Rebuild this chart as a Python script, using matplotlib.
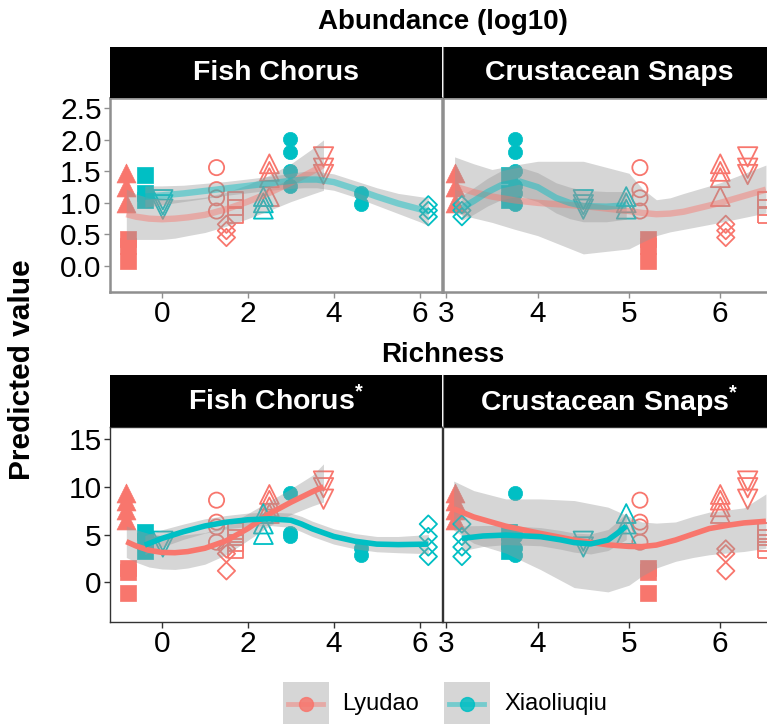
import matplotlib
matplotlib.use("Agg")
import matplotlib.pyplot as plt
from matplotlib.patches import Rectangle
from matplotlib.lines import Line2D
import numpy as np

plt.rcParams['font.family'] = ['Liberation Sans', 'DejaVu Sans']
plt.rcParams['mathtext.fontset'] = 'custom'
plt.rcParams['mathtext.rm'] = 'Liberation Sans'
plt.rcParams['mathtext.bf'] = 'Liberation Sans:bold'

# ---------------- data ----------------
islands = ["Lyudao", "Xiaoliuqiu"]
island_colours = {"Lyudao": "#F8766D", "Xiaoliuqiu": "#00BFC4"}

site_island = ["Lyudao"] * 7 + ["Xiaoliuqiu"] * 6
site_marker = ["^", "s", "o", "s", "D", "^", "v", "s", "v", "^", "o", "o", "D"]
site_filled = [True, True, False, False, False, False, False, True, False, False, True, True, False]
fish_chorus_x = [-0.83, -0.78, 1.27, 1.71, 1.50, 2.50, 3.76, -0.40, 0.02, 2.36, 2.98, 4.64, 6.20]
crust_snaps_x = [3.09, 5.21, 5.12, 6.50, 6.06, 6.00, 6.30, 3.69, 4.50, 4.97, 3.75, 3.75, 3.17]
abundance = [
    [1.47, 1.25, 1.00],
    [0.42, 0.32, 0.08],
    [1.56, 1.21, 1.08, 0.87],
    [1.05, 0.93, 0.80],
    [0.66, 0.56, 0.45],
    [1.62, 1.50, 1.40, 1.10],
    [1.73, 1.55, 1.45],
    [1.45, 1.16, 1.05],
    [1.05, 0.97, 0.90],
    [1.10, 1.00, 0.90],
    [2.02, 1.80, 1.50, 1.26],
    [1.15, 0.98],
    [0.97, 0.88, 0.78],
]
richness = [
    [9.3, 8.5, 7.6, 6.5],
    [1.5, 1.1, -1.1],
    [8.6, 6.3, 5.8, 4.2],
    [5.4, 4.7, 4.1, 3.4],
    [3.5, 3.0, 1.2],
    [9.2, 8.6, 7.9, 7.2],
    [10.6, 9.9, 8.7],
    [5.3, 4.3, 3.3],
    [4.3, 3.7],
    [7.2, 6.1, 5.0],
    [9.4, 5.2, 4.9],
    [3.6, 2.9],
    [6.1, 4.8, 3.7, 2.7],
]

# fitted smooths: x, fit, lower, upper
ab_fc_L_x = [-0.83, -0.6, -0.3, 0, 0.3, 0.6, 1, 1.5, 2, 2.5, 3, 3.5, 3.76]
ab_fc_L_fit = [0.82, 0.78, 0.75, 0.74, 0.75, 0.77, 0.81, 0.90, 1.02, 1.16, 1.32, 1.50, 1.60]
ab_fc_L_lo = [0.42, 0.42, 0.42, 0.42, 0.44, 0.48, 0.53, 0.63, 0.75, 0.88, 1.02, 1.14, 1.20]
ab_fc_L_hi = [1.22, 1.14, 1.08, 1.06, 1.05, 1.06, 1.09, 1.17, 1.29, 1.44, 1.62, 1.86, 2.00]

ab_fc_X_x = [-0.4, 0, 0.5, 1, 1.5, 2, 2.5, 3, 3.3, 3.6, 4, 4.5, 5, 5.5, 6, 6.2]
ab_fc_X_fit = [1.10, 1.12, 1.15, 1.19, 1.23, 1.27, 1.31, 1.35, 1.37, 1.37, 1.33, 1.22, 1.10, 0.99, 0.90, 0.86]
ab_fc_X_lo = [0.93, 0.97, 1.02, 1.07, 1.12, 1.16, 1.20, 1.23, 1.24, 1.24, 1.20, 1.09, 0.96, 0.83, 0.70, 0.64]
ab_fc_X_hi = [1.27, 1.27, 1.28, 1.31, 1.34, 1.38, 1.42, 1.47, 1.50, 1.50, 1.46, 1.35, 1.24, 1.15, 1.10, 1.08]

ab_cs_L_x = [3.09, 3.3, 3.5, 3.75, 4, 4.5, 5, 5.15, 5.3, 5.45, 5.6, 6, 6.5]
ab_cs_L_fit = [1.26, 1.17, 1.10, 1.04, 1.00, 0.95, 0.87, 0.84, 0.82, 0.83, 0.86, 1.00, 1.21]
ab_cs_L_lo = [0.84, 0.76, 0.69, 0.58, 0.48, 0.19, 0.27, 0.38, 0.48, 0.54, 0.58, 0.69, 0.84]
ab_cs_L_hi = [1.73, 1.62, 1.53, 1.60, 1.66, 1.66, 1.47, 1.22, 1.05, 1.08, 1.15, 1.32, 1.60]

ab_cs_X_x = [3.17, 3.3, 3.45, 3.6, 3.8, 4.0, 4.2, 4.35, 4.5, 4.75, 4.97]
ab_cs_X_fit = [0.92, 1.03, 1.17, 1.28, 1.34, 1.25, 1.08, 1.00, 0.95, 0.94, 0.96]
ab_cs_X_lo = [0.72, 0.82, 0.95, 1.05, 1.11, 1.02, 0.84, 0.75, 0.70, 0.70, 0.74]
ab_cs_X_hi = [1.12, 1.24, 1.39, 1.51, 1.57, 1.48, 1.32, 1.25, 1.20, 1.18, 1.18]

ri_fc_L_x = [-0.83, -0.6, -0.3, 0, 0.3, 0.6, 1, 1.5, 2, 2.5, 3, 3.5, 3.76]
ri_fc_L_fit = [4.26, 3.80, 3.35, 3.13, 3.10, 3.22, 3.57, 4.36, 5.63, 7.18, 8.38, 9.48, 10.0]
ri_fc_L_lo = [2.6, 2.1, 1.6, 1.4, 1.35, 1.5, 1.9, 2.9, 4.4, 5.9, 7.1, 8.0, 8.4]
ri_fc_L_hi = [5.9, 5.5, 5.1, 4.9, 4.9, 5.0, 5.2, 5.9, 7.2, 8.5, 9.8, 11.2, 12.4]

ri_fc_X_x = [-0.4, 0, 0.5, 1, 1.5, 2, 2.5, 3, 3.25, 3.5, 4, 4.5, 5, 5.5, 6.2]
ri_fc_X_fit = [3.9, 4.6, 5.3, 5.9, 6.3, 6.55, 6.65, 6.5, 6.1, 5.6, 4.8, 4.3, 4.0, 3.95, 4.0]
ri_fc_X_lo = [2.9, 3.7, 4.5, 5.15, 5.6, 5.85, 5.95, 5.75, 5.3, 4.8, 4.0, 3.5, 3.2, 3.1, 3.0]
ri_fc_X_hi = [4.9, 5.5, 6.1, 6.65, 7.0, 7.25, 7.35, 7.25, 6.9, 6.4, 5.6, 5.1, 4.8, 4.8, 5.0]

ri_cs_L_x = [3.08, 3.3, 3.65, 4.03, 4.4, 4.77, 5.0, 5.14, 5.3, 5.51, 5.7, 5.88, 6.1, 6.26, 6.5]
ri_cs_L_fit = [7.7, 6.84, 5.88, 5.12, 4.43, 3.92, 3.76, 3.74, 3.90, 4.43, 5.05, 5.63, 6.0, 6.22, 6.39]
ri_cs_L_lo = [5.46, 4.09, 3.06, 1.34, -0.55, -1.0, -0.3, 0.65, 1.5, 2.2, 2.6, 2.89, 3.1, 3.23, 3.57]
ri_cs_L_hi = [10.6, 9.6, 8.73, 8.73, 8.56, 7.87, 6.9, 6.32, 6.2, 6.32, 6.9, 7.35, 7.6, 7.8, 9.25]

ri_cs_X_x = [3.17, 3.4, 3.65, 4.03, 4.25, 4.4, 4.58, 4.77, 4.87, 4.97]
ri_cs_X_fit = [4.6, 4.85, 4.95, 4.78, 4.45, 4.16, 4.02, 4.43, 5.12, 5.88]
ri_cs_X_lo = [3.3, 3.75, 3.95, 3.83, 3.47, 3.16, 2.97, 3.33, 3.9, 4.48]
ri_cs_X_hi = [5.9, 5.95, 5.95, 5.73, 5.43, 5.16, 5.07, 5.53, 6.34, 7.28]

row_titles = ["Abundance (log10)", "Richness"]
col_titles = [["Fish Chorus", "Crustacean Snaps"],
              [r"Fish Chorus$^{\mathbf{*}}$", r"Crustacean Snaps$^{\mathbf{*}}$"]]
ylabel = "Predicted value"
yticks_rows = [[0.0, 0.5, 1.0, 1.5, 2.0, 2.5], [0, 5, 10, 15]]
ytick_labels_rows = [["0.0", "0.5", "1.0", "1.5", "2.0", "2.5"], ["0", "5", "10", "15"]]
xticks_cols = [[0, 2, 4, 6], [3, 4, 5, 6]]

# ---------------- layout ----------------
W, H = 767, 724
fig = plt.figure(figsize=(W / 100, H / 100), dpi=100)


def fx(x):
    return x / W


def fy(y):
    return 1 - y / H


panel_w = 332.5
col_left = [110, 443]
row_top = [98.3, 426.7]
row_bottom = [291.7, 621.7]
strip_top = [47, 375]
title_y = [22, 355]
xlims = [(-1.21, 6.53), (2.963, 2.963 + panel_w / 91.3)]
ylims = [(-0.41, 2.66), (-4.12, 16.29)]
frame_col = ["#8f8f8f", "#333333"]
frame_lw = [1.8, 1.0]
line_alpha = [0.45, 1.0]
line_w = [4.6, 4.0]

smooths = {
    (0, 0): [(ab_fc_L_x, ab_fc_L_fit, ab_fc_L_lo, ab_fc_L_hi, "Lyudao"),
             (ab_fc_X_x, ab_fc_X_fit, ab_fc_X_lo, ab_fc_X_hi, "Xiaoliuqiu")],
    (0, 1): [(ab_cs_L_x, ab_cs_L_fit, ab_cs_L_lo, ab_cs_L_hi, "Lyudao"),
             (ab_cs_X_x, ab_cs_X_fit, ab_cs_X_lo, ab_cs_X_hi, "Xiaoliuqiu")],
    (1, 0): [(ri_fc_L_x, ri_fc_L_fit, ri_fc_L_lo, ri_fc_L_hi, "Lyudao"),
             (ri_fc_X_x, ri_fc_X_fit, ri_fc_X_lo, ri_fc_X_hi, "Xiaoliuqiu")],
    (1, 1): [(ri_cs_L_x, ri_cs_L_fit, ri_cs_L_lo, ri_cs_L_hi, "Lyudao"),
             (ri_cs_X_x, ri_cs_X_fit, ri_cs_X_lo, ri_cs_X_hi, "Xiaoliuqiu")],
}

marker_sizes = {"^": 185, "v": 195, "s": 125, "o": 120, "D": 78}
filled_circle_size = 105

for r in range(2):
    yvals = [abundance, richness][r]
    for c in range(2):
        xs_site = [fish_chorus_x, crust_snaps_x][c]
        left = col_left[c]
        ax = fig.add_axes([fx(left), fy(row_bottom[r]), panel_w / W,
                           (row_bottom[r] - row_top[r]) / H])
        ax.set_xlim(*xlims[c])
        ax.set_ylim(*ylims[r])
        # points
        for i in range(len(site_island)):
            col = island_colours[site_island[i]]
            ys = yvals[i]
            xs = [xs_site[i]] * len(ys)
            m = site_marker[i]
            if site_filled[i]:
                sz = filled_circle_size if m == "o" else marker_sizes[m]
                ax.scatter(xs, ys, marker=m, s=sz, facecolor=col,
                           edgecolor=col, linewidths=0.5, zorder=2)
            else:
                ax.scatter(xs, ys, marker=m, s=marker_sizes[m], facecolor="none",
                           edgecolor=col, linewidths=1.3, zorder=2)
        # ribbons and lines
        for (sx, sfit, slo, shi, isl) in smooths[(r, c)]:
            ax.fill_between(sx, slo, shi, color="#999999", alpha=0.4,
                            linewidth=0, zorder=3)
        for (sx, sfit, slo, shi, isl) in smooths[(r, c)]:
            ax.plot(sx, sfit, color=island_colours[isl], lw=line_w[r],
                    alpha=line_alpha[r], solid_capstyle="butt",
                    solid_joinstyle="round", zorder=4)
        # frame & ticks
        for sp in ax.spines.values():
            sp.set_color(frame_col[r])
            sp.set_linewidth(frame_lw[r])
        ax.set_xticks(xticks_cols[c])
        ax.set_xticklabels([str(t) for t in xticks_cols[c]])
        if c == 0:
            ax.set_yticks(yticks_rows[r])
            ax.set_yticklabels(ytick_labels_rows[r])
        else:
            ax.set_yticks([])
        ax.tick_params(direction="out", length=4, width=1.0, color=frame_col[r],
                       labelsize=21.5, labelcolor="black", pad=2)
        ax.set_facecolor("white")
        # strip
        fig.add_artist(Rectangle((fx(left), fy(row_top[r])), panel_w / W,
                                 (row_top[r] - strip_top[r]) / H,
                                 transform=fig.transFigure, facecolor="black",
                                 edgecolor="none", zorder=5))
        fig.text(fx(left + panel_w / 2), fy((row_top[r] + strip_top[r]) / 2),
                 col_titles[r][c], color="white", fontsize=20.5, fontweight="bold",
                 ha="center", va="center", zorder=6)
    # separator line between strips
    fig.add_artist(Line2D([fx(col_left[1]), fx(col_left[1])],
                          [fy(strip_top[r]), fy(row_top[r])],
                          transform=fig.transFigure, color="#777777", lw=0.8, zorder=6))
    fig.text(fx(443), fy(title_y[r]), row_titles[r], fontsize=20,
             fontweight="bold", ha="center", va="center")

fig.text(fx(22), fy(370), ylabel, rotation=90, fontsize=21.5, fontweight="bold",
         ha="center", va="center")

# legend
leg_y = 704
for lx, tx, isl in [(283, 342, "Lyudao"), (444, 504, "Xiaoliuqiu")]:
    fig.add_artist(Rectangle((fx(lx), fy(740)), 46 / W, (740 - 682) / H,
                             transform=fig.transFigure, facecolor="#d6d6d6",
                             edgecolor="none"))
    fig.add_artist(Line2D([fx(lx + 5), fx(lx + 40)], [fy(leg_y), fy(leg_y)],
                          transform=fig.transFigure, color=island_colours[isl],
                          alpha=0.45, lw=3.5))
    fig.add_artist(Line2D([fx(lx + 23)], [fy(leg_y)], transform=fig.transFigure,
                          marker="o", markersize=10, color=island_colours[isl],
                          alpha=0.85, linestyle="none"))
    fig.text(fx(tx), fy(leg_y), isl, fontsize=17, ha="left", va="center")

fig.savefig("out.png", dpi=100)
